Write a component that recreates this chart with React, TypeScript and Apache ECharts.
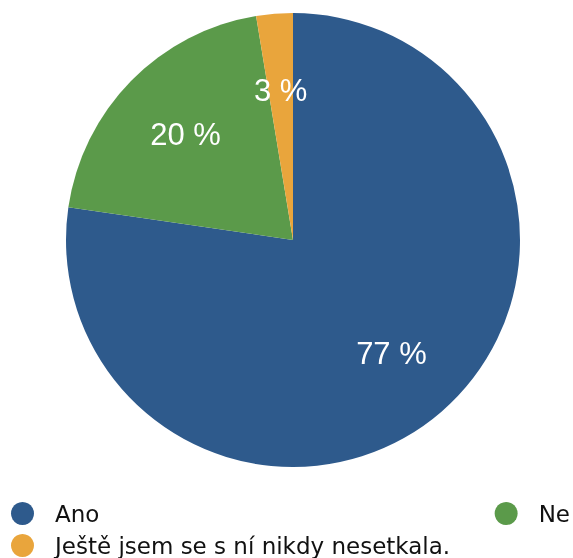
import React, { useEffect, useRef } from "react";
import * as echarts from "echarts";

const categories = ["Ano", "Ne", "Ještě jsem se s ní nikdy nesetkala."];
const values = [77.3, 20.1, 2.6];
const colors = ["#2E5A8C", "#5B9A4A", "#E9A53C"];

export default function App() {
  const ref = useRef<HTMLDivElement>(null);
  useEffect(() => {
    if (!ref.current) return;
    const chart = echarts.init(ref.current, null, { renderer: "svg" });
    const data = categories.map((name, i) => ({
      name,
      value: values[i],
      itemStyle: { color: colors[i] },
    }));
    const fontFamily = "'Liberation Sans', Arial, Helvetica, sans-serif";
    const legendFont = "'DejaVu Sans', 'Liberation Sans', sans-serif";
    const legendBase = {
      orient: "horizontal",
      icon: "circle",
      itemWidth: 23,
      itemHeight: 23,
      padding: 0,
      textStyle: { fontSize: 23, color: "#111", fontFamily: legendFont, padding: [0, 0, 0, 16] },
      selectedMode: false,
    };
    chart.setOption({
      animation: false,
      textStyle: { fontFamily },
      legend: [
        { ...legendBase, data: [categories[0]], left: 11, top: 502 },
        { ...legendBase, data: [categories[2]], left: 11, top: 534 },
        { ...legendBase, data: [categories[1]], right: 3, top: 502 },
      ],
      series: [
        {
          type: "pie",
          center: [293, 240],
          radius: [0, 227],
          startAngle: 90,
          clockwise: true,
          data,
          label: { show: false },
          labelLine: { show: false },
          silent: true,
        },
        {
          type: "pie",
          center: [293, 240],
          radius: [68, 227],
          startAngle: 90,
          clockwise: true,
          data: data.map((d) => ({ ...d, itemStyle: { color: "transparent" } })),
          label: {
            show: true,
            position: "inside",
            formatter: (p: any) => `${Math.round(p.value)} %`,
            color: "#fff",
            fontSize: 31,
            fontFamily,
          },
          labelLine: { show: false },
          silent: true,
        },
      ],
    });
    return () => chart.dispose();
  }, []);
  return (
    <div
      ref={ref}
      style={{ position: "fixed", left: 0, top: 0, width: 573, height: 558 }}
    />
  );
}
